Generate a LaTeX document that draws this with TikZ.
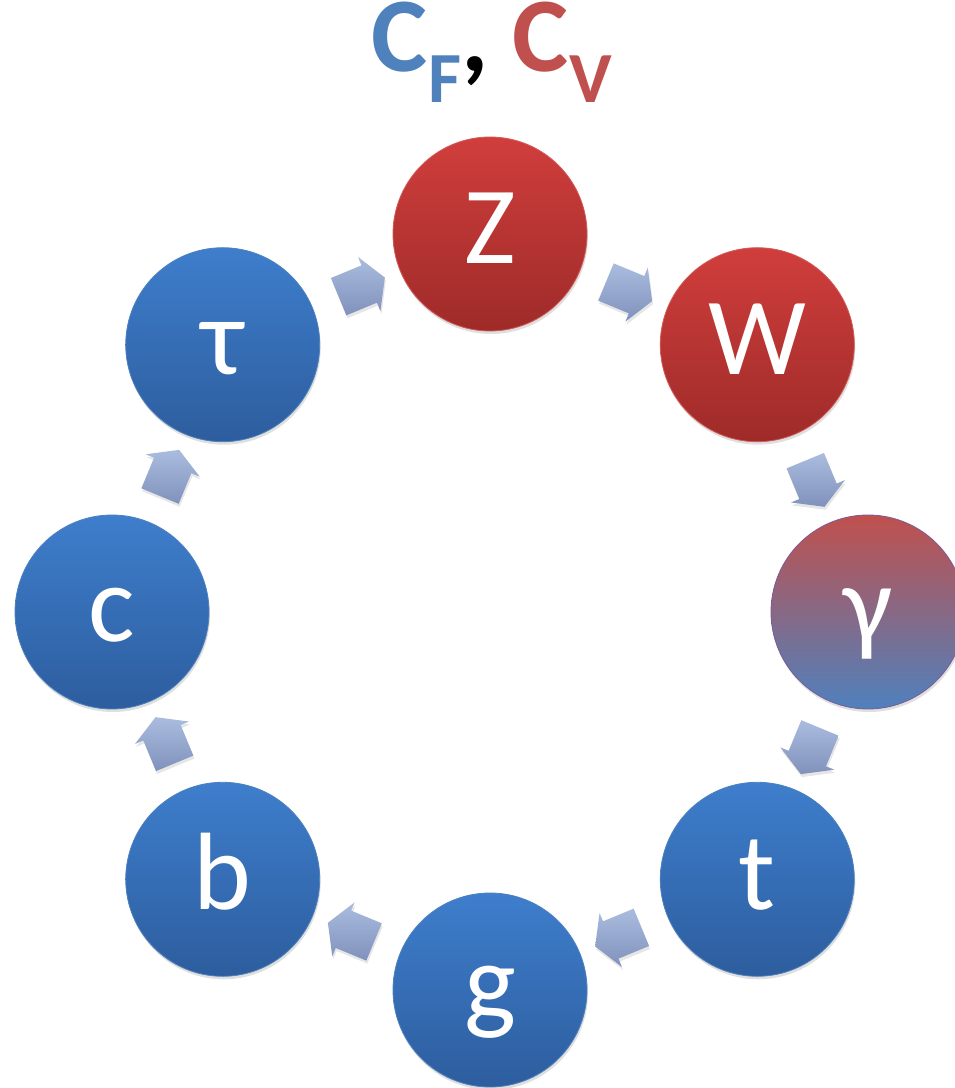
\documentclass[tikz,border=0pt]{standalone}
\usepackage{fontspec}
\setmainfont{Carlito}
\usepackage{tikz}
\usetikzlibrary{calc, shapes.arrows, shadows}
\definecolor{fermionTop}{RGB}{62,126,204}
\definecolor{fermionBottom}{RGB}{45,93,158}
\definecolor{fermionEdge}{RGB}{79,129,189}
\definecolor{bosonTop}{RGB}{208,62,60}
\definecolor{bosonBottom}{RGB}{158,43,41}
\definecolor{bosonEdge}{RGB}{210,90,88}
\definecolor{mixedEdge}{RGB}{122,90,154}
\definecolor{cfBlue}{RGB}{79,129,189}
\definecolor{cvRed}{RGB}{192,80,77}
\definecolor{arrowTop}{RGB}{170,188,222}
\definecolor{arrowBottom}{RGB}{128,146,188}
\tikzstyle{particleStyle} = [circle, minimum size=194pt, inner sep=0pt, line width=.8pt, text=white, font=\fontsize{110}{110}\selectfont, text height=80pt, text depth=20pt, drop shadow={opacity=.25, shadow xshift=1pt, shadow yshift=-3pt}]
\tikzstyle{fermionStyle} = [particleStyle, draw=fermionEdge, top color=fermionTop, bottom color=fermionBottom]
\tikzstyle{bosonStyle} = [particleStyle, draw=bosonEdge, top color=bosonTop, bottom color=bosonBottom]
\tikzstyle{mixedStyle} = [particleStyle, draw=mixedEdge, top color=cvRed, bottom color=cfBlue]
\tikzstyle{cycleArrowStyle} = [single arrow, inner xsep=0pt, inner ysep=20pt, minimum height=50pt, single arrow head extend=9pt, single arrow tip angle=120, top color=arrowTop, bottom color=arrowBottom, drop shadow={opacity=.2, shadow xshift=1pt, shadow yshift=-3pt}]
\newcommand{\ringRadius}{378}
\newcommand{\particle}[4]{\node [#1] (#2) at ($(ringCentre) + (#3:\ringRadius)$) {#4};}
\newcommand{\cycleArrow}[2]{\path let \p1 = ($(#2)-(#1)$), \n1 = {atan2(\y1,\x1)} in node [cycleArrowStyle, rotate=\n1] at ($(#1)!0.5!(#2)$) {};}
\newcommand{\lowered}[1]{\raisebox{-31pt}{\fontsize{72}{72}\selectfont #1}}

\begin{document}
\begin{tikzpicture}[x=1pt, y=1pt]
  \useasboundingbox (0,0) rectangle (955,1088);
  \coordinate (ringCentre) at (490,476);
  \node (title) [anchor=base, inner sep=0pt, text height=64pt, font=\fontsize{106}{106}\selectfont\bfseries] at (492,1016) {\textcolor{cfBlue}{C\kern1pt\lowered{F}},~\textcolor{cvRed}{C\kern1pt\lowered{V}}};
  % bosons on top, fermions round the rest
  \particle{bosonStyle}{Z}{90}{Z}\particle{bosonStyle}{W}{45}{W}\particle{mixedStyle}{gamma}{0}{γ}\particle{fermionStyle}{t}{-45}{t}
  \particle{fermionStyle}{g}{-90}{g}\particle{fermionStyle}{b}{-135}{b}\particle{fermionStyle}{c}{180}{c}\particle{fermionStyle}{tau}{135}{τ}
  \cycleArrow{Z}{W}\cycleArrow{W}{gamma}\cycleArrow{gamma}{t}\cycleArrow{t}{g}
  \cycleArrow{g}{b}\cycleArrow{b}{c}\cycleArrow{c}{tau}\cycleArrow{tau}{Z}
\end{tikzpicture}
\end{document}
